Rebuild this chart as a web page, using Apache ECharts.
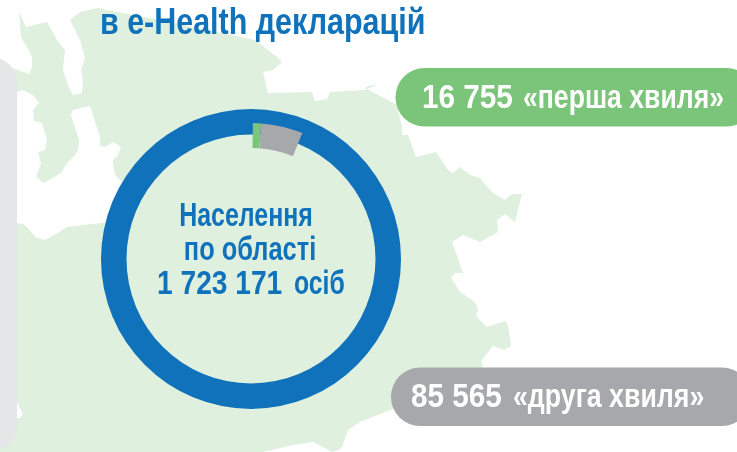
<!DOCTYPE html>
<html>
<head>
<meta charset="utf-8">
<style>
html, body { margin: 0; padding: 0; background: #fff; }
#chart { width: 737px; height: 452px; }
</style>
<script src="https://cdn.jsdelivr.net/npm/echarts@6/dist/echarts.min.js"></script>
</head>
<body>
<div id="chart"></div>
<script>
// дані
const population = 1723171
const waveNames = ['перша хвиля', 'друга хвиля']
const waveValues = [16755, 85565]
const restValue = 1620851
const titleText = 'в e-Health декларацій'
const centerLines = ['Населення', 'по області']
const centerUnit = 'осіб'

const blue = '#1072ba'
const green = '#7bc57a'
const grey = '#a7a8ab'
const mapColor = '#dff0df'
const font = '"Liberation Sans", sans-serif'

// контур області, тло
const mapOutline = [
    [19,12],[26,27],[47,22],[57,40],[65,50],[63,70],[68,85],[73,95],[82,93],[83,82],[81,70],[85,58],[80,40],[70,20],[80,12],[97,8],
    [160,20],[255,40],[277,57],[282,62],[273,70],[263,72],[268,93],[312,92],[315,101],[327,99],[330,92],[365,90],[367,86],[377,85],[367,89],[397,105],
    [402,127],[402,135],[408,135],[416,157],[436,152],[448,170],[453,173],[460,167],[470,175],[480,178],[493,193],[505,200],[512,194],[522,194],[515,222],[505,214],[497,220],[498,232],[480,242],[463,235],[452,242],[455,250],
    [463,273],[455,273],[451,278],[460,292],[475,302],[478,310],[476,316],[487,327],[505,321],[508,325],[511,346],[504,350],[493,346],[481,361],[483,367],
    [420,395],[395,408],[360,422],[348,430],[342,447],[338,450],[332,452],[323,447],[313,442],[293,445],[263,452],
    [0,452],[0,418],[20,418],[23,414],[17,402],[0,402],[0,224],
    [17,223],[23,224],[28,228],[35,237],[45,240],[58,233],[67,227],[110,222],[125,205],[122,182],[115,175],[113,163],[113,160],[118,155],[121,147],[113,142],[105,147],[100,146],[100,137],[90,106],[73,110],[71,115],[79,140],[78,150],[75,155],[67,163],[61,173],[44,183],[36,177],[41,163],[38,152],[45,150],[47,140],[42,123],[34,121],[33,110],[39,103],[33,95],[23,90],[17,92],[13,92],
    [13,68],[29,74],[32,67],[32,57],[27,47],[21,37]
]

function fmt (v) {
    return String(v).replace(/\B(?=(\d{3})+$)/g, ' ')
}

// шрифт вузький, тому стискаємо по горизонталі
function label (text, x, y, size, fill, scaleX, align) {
    return {
        type: 'text', x: x, y: y, z: 10, scaleX: scaleX || 1, silent: true,
        style: {
            text: text, x: 0, y: 0, fill: fill,
            font: 'bold ' + size + 'px ' + font,
            textAlign: align || 'left', textVerticalAlign: 'middle'
        }
    }
}

const chart = echarts.init(document.getElementById('chart'), null, {renderer: 'canvas'})
chart.setOption({
    animation: false,
    backgroundColor: '#fff',
    graphic: [
        {type: 'polygon', z: 0, silent: true, shape: {points: mapOutline}, style: {fill: mapColor}},
        {type: 'rect', z: 1, silent: true, shape: {x: -9, y: 57, width: 26, height: 395, r: [0, 26, 26, 0]}, style: {fill: '#e5e6e8'}},
        {type: 'rect', z: 1, silent: true, shape: {x: 395.5, y: 68, width: 360, height: 58.5, r: 29}, style: {fill: green}},
        {type: 'rect', z: 1, silent: true, shape: {x: 391, y: 367.5, width: 360, height: 58.5, r: 29}, style: {fill: grey}},
        label(titleText, 100, 24, 37, blue, 0.823),
        label(centerLines[0], 246, 217, 33, blue, 0.756, 'center'),
        label(centerLines[1], 250, 251, 33, blue, 0.77, 'center'),
        label(fmt(population), 157, 285, 33, blue, 0.853),
        label(centerUnit, 294, 285, 33, blue, 0.75),
        label(fmt(waveValues[0]), 422, 99, 34, '#fff', 0.874),
        label('«' + waveNames[0] + '»', 523, 99, 33, '#fff', 0.806),
        label(fmt(waveValues[1]), 411, 398, 34, '#fff', 0.874),
        label('«' + waveNames[1] + '»', 513, 398, 33, '#fff', 0.81)
    ],
    series: [
        {
            type: 'pie',
            center: [251, 259],
            radius: [124.5, 150],
            silent: true,
            label: {show: false},
            labelLine: {show: false},
            data: [{value: population, itemStyle: {color: blue}}]
        },
        {
            type: 'pie',
            center: [251, 259],
            radius: [111, 136],
            startAngle: 89.2,
            silent: true,
            z: 3,
            label: {show: false},
            labelLine: {show: false},
            data: [
                {value: waveValues[0], name: waveNames[0], itemStyle: {color: green}},
                {value: waveValues[1], name: waveNames[1], itemStyle: {color: grey}},
                {value: restValue, itemStyle: {color: 'transparent'}}
            ]
        }
    ]
})
</script>
</body>
</html>
